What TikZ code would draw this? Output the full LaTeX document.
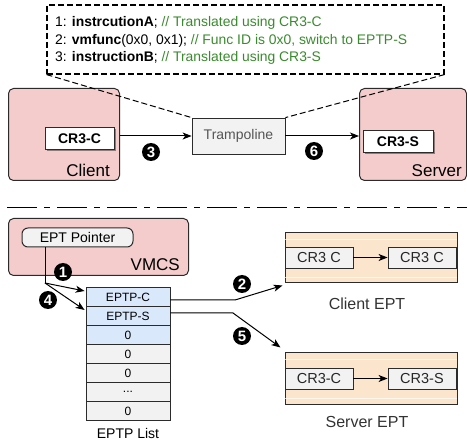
\documentclass[tikz,border=0pt]{standalone}
\usepackage{fontspec}
\setmainfont{Liberation Sans}
\usetikzlibrary{arrows.meta,shadows,calc}
\definecolor{pinkfill}{HTML}{F4CCCC}
\definecolor{peach}{HTML}{FCE5CD}
\definecolor{lgray}{HTML}{F2F2F2}
\definecolor{lblue}{HTML}{DAE8FC}
\definecolor{cgreen}{HTML}{3A8A2E}
\definecolor{dborder}{HTML}{2B2B2B}
\definecolor{tgray}{HTML}{555555}
\newcommand{\fsz}[1]{\fontsize{#1}{#1}\selectfont}
\tikzset{
  arr/.style={-{Stealth[length=9pt,width=7pt,inset=2.5pt]}, line width=1pt},
  plain/.style={line width=1pt},
  pinkbox/.style={draw=dborder, fill=pinkfill, line width=1pt, rounded corners=5pt, anchor=north west, inner sep=0pt},
  crbox/.style={draw=dborder, fill=white, line width=1pt, inner sep=0pt, font=\fsz{14}\bfseries,
     drop shadow={shadow xshift=1.5pt, shadow yshift=-1.5pt, opacity=.4, fill=black}},
  tramp/.style={draw=dborder, fill=lgray, line width=0.8pt, inner sep=0pt, text=tgray, font=\fsz{14},
     drop shadow={shadow xshift=1pt, shadow yshift=-1pt, opacity=.2, fill=black}},
  numc/.style={circle, fill=black, text=white, inner sep=0pt, minimum size=18pt, font=\fsz{15}\bfseries},
  row/.style={draw=dborder, line width=0.8pt, minimum width=84pt, minimum height=19pt, inner sep=0pt, font=\fsz{12}},
  eptbox/.style={draw=dborder, fill=peach, line width=1pt, inner sep=0pt},
  inbox/.style={draw=dborder, fill=lgray, line width=0.8pt, minimum width=68pt, minimum height=21pt, inner sep=0pt, font=\fsz{14.5}, text=black!85,
     drop shadow={shadow xshift=1pt, shadow yshift=-1pt, opacity=.2, fill=black}},
  stripe/.style={white, opacity=.7, line width=0.7pt},
  codeline/.style={anchor=base west, inner sep=0pt, font=\fsz{13.9}},
}
\begin{document}
\begin{tikzpicture}[x=1pt,y=-1pt]
\useasboundingbox (0,0) rectangle (467,441);

% ---------- top part ----------
\node[draw=black, dashed, dash pattern=on 6pt off 3pt, line width=1.1pt, minimum width=397pt, minimum height=69pt, inner sep=0pt] (code) at (245.5,39.5) {};
\node[codeline] (l1) at (55,27) {1: \textbf{instrcutionA}; \textcolor{cgreen}{// Translated using CR3-C}};
\node[codeline] (l2) at (55,44.5) {2: \textbf{vmfunc}(0x0, 0x1); \textcolor{cgreen}{// Func ID is 0x0, switch to EPTP-S}};
\node[codeline] (l3) at (55,62) {3: \textbf{instructionB}; \textcolor{cgreen}{// Translated using CR3-S}};

\node[pinkbox, minimum width=111pt, minimum height=92pt] (client) at (8,88) {};
\node[pinkbox, minimum width=107pt, minimum height=92pt] (server) at (359,88) {};
\node[anchor=base east, inner sep=0pt, font=\fsz{17}] (clientlbl) at (110,177) {Client};
\node[anchor=base east, inner sep=0pt, font=\fsz{17}] (serverlbl) at (462,177) {Server};
\node[crbox, minimum width=69pt, minimum height=22pt] (cr3c) at (79.5,139) {CR3-C};
\node[crbox, minimum width=70pt, minimum height=22pt] (cr3s) at (398,142) {CR3-S};
\node[tramp, minimum width=93pt, minimum height=36pt] (tr) at (238.5,136) {Trampoline};

\draw[arr] (client.east |- tr.west) -- (tr.west);
\draw[arr] (tr.east) -- (server.west |- tr.east);
\draw[dashed, dash pattern=on 6pt off 3pt, line width=1pt] (code.south west) -- (tr.north west);
\draw[dashed, dash pattern=on 6pt off 3pt, line width=1pt] (code.south east) -- (tr.north east);

\node[numc] (n3) at (151,152) {3};
\node[numc] (n6) at (314,151) {6};

% ---------- separator ----------
\coordinate (sepL) at (7,208);
\coordinate (sepR) at (467,208);
\draw[line width=1pt, dash pattern=on 30pt off 7pt on 6pt off 7pt] (sepL) -- (sepR);

% ---------- bottom part ----------
\node[pinkbox, minimum width=180pt, minimum height=57pt] (vmcs) at (8,218) {};
\node[anchor=base east, inner sep=0pt, font=\fsz{17}] (vmcslbl) at (180,271) {VMCS};
\node[draw=dborder, fill=lgray, line width=1pt, rounded corners=6pt, minimum width=111pt, minimum height=19pt, inner sep=0pt, font=\fsz{14}] (eptptr) at (77.5,237.5) {EPT Pointer};

\node[row, fill=lblue] (r1) at (128,297) {EPTP-C};
\node[row, fill=lblue] (r2) at (128,316) {EPTP-S};
\node[row, fill=lblue] (r3) at (128,335) {0};
\node[row, fill=lgray] (r4) at (128,354) {0};
\node[row, fill=lgray] (r5) at (128,373) {0};
\node[row, fill=lgray] (r6) at (128,392) {...};
\node[row, fill=lgray] (r7) at (128,411) {0};
\node[inner sep=0pt, font=\fsz{14}] (listlbl) at (128,433) {EPTP List};

\coordinate (bend) at (45,283);
\draw[plain] (eptptr.south -| bend) -- (bend);
\draw[arr] (bend) -- ($(r1.west)+(-1,-6)$);
\draw[arr] (bend) -- ($(r2.west)+(-1,-6)$);
\node[numc] (n1) at (63,272) {1};
\node[numc] (n4) at (48,300) {4};

% Client EPT
\node[eptbox, minimum width=172pt, minimum height=50pt] (cept) at (371,258) {};
\draw[stripe] ($(cept.north west)+(0.5,7)$) -- ($(cept.north east)+(-0.5,7)$);
\draw[stripe] ($(cept.south west)+(0.5,-6)$) -- ($(cept.south east)+(-0.5,-6)$);
\node[inbox] (cc1) at (319,257.5) {CR3 C};
\node[inbox] (cc2) at (422,257.5) {CR3 C};
\draw[arr] (cc1) -- (cc2);
\node[inner sep=0pt, font=\fsz{16}, text=black!80] (ceptlbl) at (367,304) {Client EPT};

% Server EPT
\node[eptbox, minimum width=172pt, minimum height=52pt] (sept) at (371,379) {};
\draw[stripe] ($(sept.north west)+(0.5,7)$) -- ($(sept.north east)+(-0.5,7)$);
\draw[stripe] ($(sept.south west)+(0.5,-7)$) -- ($(sept.south east)+(-0.5,-7)$);
\node[inbox] (sc1) at (319,378.5) {CR3-C};
\node[inbox] (sc2) at (422,378.5) {CR3-S};
\draw[arr] (sc1) -- (sc2);
\node[inner sep=0pt, font=\fsz{16}, text=black!80] (septlbl) at (367,422) {Server EPT};

% arrows 2 and 5
\coordinate (k2) at (235,300);
\coordinate (k5) at (233,313);
\draw[arr] (r1.east |- k2) -- (k2) -- ($(cept.south west)+(-2,2)$);
\draw[arr] (r2.east |- k5) -- (k5) -- ($(sept.north west)+(-4,-5)$);
\node[numc] (n2) at (242,284) {2};
\node[numc] (n5) at (242,336) {5};
\end{tikzpicture}
\end{document}
